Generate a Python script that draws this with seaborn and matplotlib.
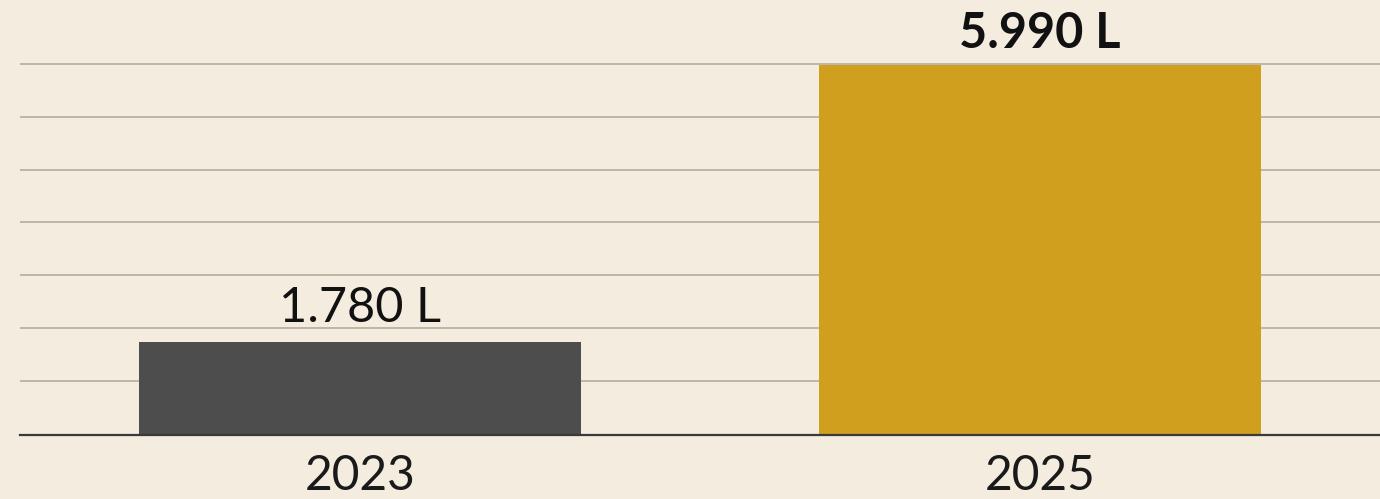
import numpy as np
import pandas as pd
import matplotlib
matplotlib.use("Agg")
import matplotlib.pyplot as plt
import seaborn as sns

# ---- data ----
years = ["2023", "2025"]
liters = [1780, 5990]
labels = ["1.780 L", "5.990 L"]
colors = ["#4d4d4d", "#d09f1e"]

BG = "#f3ecdf"
sns.set_theme(style="white")
plt.rcParams["font.family"] = ["Lato", "DejaVu Sans"]

fig = plt.figure(figsize=(13.8, 4.99), dpi=100, facecolor=BG)
ax = fig.add_axes([20 / 1380, (499 - 435) / 499, 1 - 20 / 1380, 435 / 499])
ax.set_facecolor(BG)

df = pd.DataFrame({"year": years, "liters": liters})
sns.barplot(data=df, x="year", y="liters", hue="year", palette=colors,
            width=0.65, legend=False, ax=ax, saturation=1,
            edgecolor="none", linewidth=0)

# axis limits (reference uses a non-zero baseline)
ymin = 367
px_per_unit = (435 - 65) / (5990 - ymin)
ymax = ymin + 435 / px_per_unit
ax.set_ylim(ymin, ymax)
ax.set_xlim(-0.5, 1.5)

# ruled lines
grid_px = [64, 117, 170, 222, 275, 328, 381]
grid_vals = [ymin + (435 - g) / px_per_unit for g in grid_px]
for v in grid_vals:
    ax.axhline(v, color="#b9b1a4", lw=1.3, zorder=0)

for s in ["top", "right", "left"]:
    ax.spines[s].set_visible(False)
ax.spines["bottom"].set_color("#3a3a3a")
ax.spines["bottom"].set_linewidth(1.6)
ax.spines["bottom"].set_zorder(5)

ax.set_yticks([])
ax.set_xlabel("")
ax.set_ylabel("")
ax.tick_params(axis="x", length=0, pad=14, labelsize=34.5, labelcolor="#1a1a1a")

pads = [8.5, 6.4]
for i, (cont, lab) in enumerate(zip(ax.containers, labels)):
    ax.bar_label(cont, labels=[lab], padding=pads[i], fontsize=35,
                 fontweight="bold" if i == 1 else "normal", color="#111111")

fig.savefig("out.png", dpi=100, facecolor=BG)
